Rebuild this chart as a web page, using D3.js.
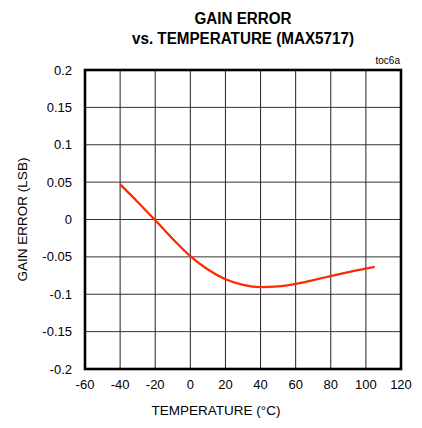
<!DOCTYPE html>
<html><head><meta charset="utf-8">
<script src="https://cdn.jsdelivr.net/npm/d3@7"></script>
<style>body{margin:0;background:#fff}svg{display:block}text{font-family:"Liberation Sans",Arial,sans-serif}</style>
</head><body><div id="chart"></div>
<script>
const temps = [-40,-30,-20,-10,0,10,20,30,40,50,60,70,80,90,100,105];
const gainError = [0.047,0.0235,-0.001,-0.026,-0.049,-0.067,-0.08,-0.0875,-0.0905,-0.0895,-0.086,-0.081,-0.0757,-0.0705,-0.0658,-0.0635];
const xTicks = [-60,-40,-20,0,20,40,60,80,100,120];
const yTicks = [-0.2,-0.15,-0.1,-0.05,0,0.05,0.1,0.15,0.2];
const titleLines = ["GAIN ERROR","vs. TEMPERATURE (MAX5717)"];
const titleWidths = [97,222];

const W=422,H=428;
const m={l:85,r:21,t:70,b:59};
const svg=d3.select("#chart").append("svg").attr("width",W).attr("height",H);
const x=d3.scaleLinear().domain([-60,120]).range([m.l,W-m.r]);
const y=d3.scaleLinear().domain([-0.2,0.2]).range([H-m.b,m.t]);
const cx=(x(-60)+x(120))/2;

// grid
svg.append("g").selectAll("line").data(xTicks.slice(1,-1)).join("line")
 .attr("x1",d=>x(d)).attr("x2",d=>x(d)).attr("y1",y(0.2)).attr("y2",y(-0.2))
 .attr("stroke","#222").attr("stroke-width",1);
svg.append("g").selectAll("line").data(yTicks.slice(1,-1)).join("line")
 .attr("y1",d=>y(d)).attr("y2",d=>y(d)).attr("x1",x(-60)).attr("x2",x(120))
 .attr("stroke","#333").attr("stroke-width",1);

// tick labels
const fmt=d=>d===0?"0":String(+d.toFixed(2));
svg.append("g").selectAll("text").data(yTicks).join("text")
 .attr("x",m.l-13).attr("y",d=>y(d)).attr("dy","0.35em").attr("text-anchor","end")
 .attr("font-size",13).attr("fill","#000").text(fmt);
svg.append("g").selectAll("text").data(xTicks).join("text")
 .attr("x",d=>x(d)).attr("y",y(-0.2)+20).attr("text-anchor","middle")
 .attr("font-size",13).attr("fill","#000").text(d=>d);

// line
svg.append("path").datum(temps.map((t,i)=>[t,gainError[i]]))
 .attr("d",d3.line().x(d=>x(d[0])).y(d=>y(d[1])).curve(d3.curveMonotoneX))
 .attr("fill","none").attr("stroke","#ff2a00").attr("stroke-width",2.3);

// frame
svg.append("rect").attr("x",m.l).attr("y",m.t).attr("width",W-m.r-m.l).attr("height",H-m.b-m.t)
 .attr("fill","none").attr("stroke","#000").attr("stroke-width",2.6);

// titles
svg.append("g").selectAll("text").data(titleLines).join("text")
 .attr("x",cx).attr("y",(d,i)=>24+i*20).attr("text-anchor","middle")
 .attr("font-size",16).attr("font-weight","bold")
 .attr("textLength",(d,i)=>titleWidths[i]).attr("lengthAdjust","spacingAndGlyphs").text(d=>d);
svg.append("text").attr("x",x(120)-1).attr("y",m.t-6).attr("text-anchor","end")
 .attr("font-size",10).text("toc6a");
svg.append("text").attr("x",216).attr("y",415).attr("text-anchor","middle")
 .attr("font-size",13.5).text("TEMPERATURE (°C)");
svg.append("text").attr("transform",`translate(27,${(y(0.2)+y(-0.2))/2}) rotate(-90)`)
 .attr("text-anchor","middle").attr("font-size",13.5).text("GAIN ERROR (LSB)");
</script></body></html>
